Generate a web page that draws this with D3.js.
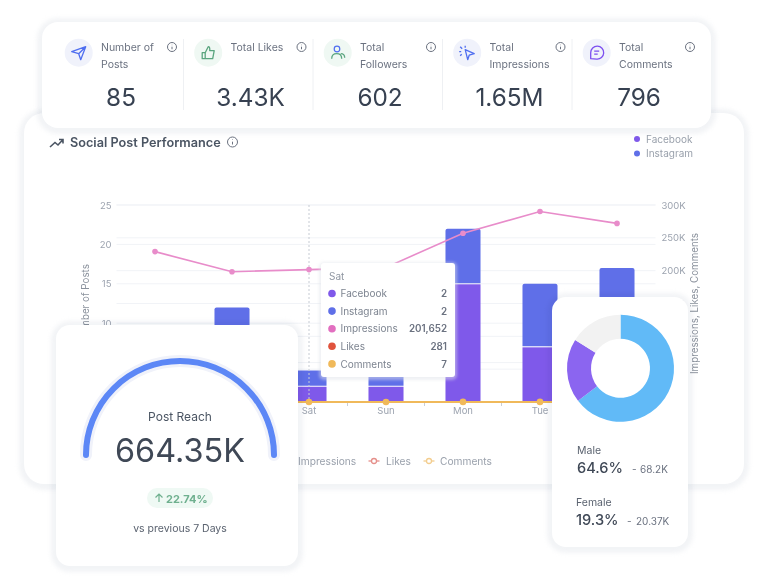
<!DOCTYPE html>
<html>
<head>
<meta charset="utf-8">
<script src="https://cdnjs.cloudflare.com/ajax/libs/d3/7.8.5/d3.min.js"></script>
<style>
  html, body { margin: 0; padding: 0; background: #fff; }
  svg { display: block; filter: blur(0.45px); }
  text { font-family: Inter, "Noto Sans", sans-serif; }
</style>
</head>
<body>
<div id="chart"></div>
<script>
// chart data
const days = ["Thu", "Fri", "Sat", "Sun", "Mon", "Tue", "Wed"];
const facebook = [5, 6, 2, 2, 15, 7, 9];
const instagram = [4, 6, 2, 4, 7, 8, 8];
const impressions = [229000, 198400, 201652, 205000, 257000, 290000, 272000];
const likes = [410, 390, 281, 420, 610, 720, 600];
const comments = [100, 90, 7, 95, 170, 185, 149];

const postTicks = [0, 5, 10, 15, 20, 25];
const reachTicks = [0, 50000, 100000, 150000, 200000, 250000, 300000];

const kpiLabels = [["Number of", "Posts"], ["Total Likes"], ["Total", "Followers"], ["Total", "Impressions"], ["Total", "Comments"]];
const kpiValues = ["85", "3.43K", "602", "1.65M", "796"];

const tooltipDay = "Sat";
const tooltipLabels = ["Facebook", "Instagram", "Impressions", "Likes", "Comments"];
const tooltipValues = ["2", "2", "201,652", "281", "7"];

const genderLabels = ["Male", "Female"];
const genderShares = [64.6, 19.3, 16.1];
const genderCounts = ["68.2K", "20.37K"];

const colors = {
  facebook: "#7f59ea", instagram: "#5f6fe8", impressions: "#e88cca",
  likes: "#e0533d", comments: "#f0b95a", grid: "#f1f3f7", axis: "#9ca3af"
};
const seriesColors = [colors.facebook, colors.instagram, "#e26fc0", colors.likes, colors.comments];

const svg = d3.select("#chart").append("svg")
  .attr("width", 768)
  .attr("height", 587);

// white rounded card with a soft see-through halo
function card(x, y, w, h, r) {
  const g = svg.append("g");
  g.append("rect").attr("x", x - 5).attr("y", y - 4).attr("width", w + 10).attr("height", h + 10)
    .attr("rx", r + 5).attr("fill", "#dfe3e9").attr("opacity", 0.4)
    .style("filter", "blur(2px)").style("mix-blend-mode", "multiply");
  g.append("rect").attr("x", x).attr("y", y).attr("width", w).attr("height", h)
    .attr("rx", r).attr("fill", "#fff");
  return g;
}

function infoIcon(parent, cx, cy, r, color) {
  const g = parent.append("g").attr("transform", "translate(" + cx + "," + cy + ")")
    .attr("fill", "none").attr("stroke", color).attr("stroke-width", 1);
  g.append("circle").attr("r", r);
  g.append("line").attr("y1", -0.3).attr("y2", r * 0.5);
  g.append("line").attr("y1", -r * 0.5).attr("y2", -r * 0.4);
}

// bar segment with only the top corners rounded
function roundedTop(left, top, w, h, r) {
  const p = d3.path();
  p.moveTo(left, top + h);
  p.lineTo(left, top + r);
  p.arcTo(left, top, left + r, top, r);
  p.lineTo(left + w - r, top);
  p.arcTo(left + w, top, left + w, top + r, r);
  p.lineTo(left + w, top + h);
  p.closePath();
  return p.toString();
}

// main chart card
card(24, 113, 720, 371, 20);

const x = d3.scaleBand().domain(days).range([116.5, 655.5]);
const yLeft = d3.scaleLinear().domain([0, 25]).range([402, 205]);
const yRight = d3.scaleLinear().domain([0, 300000]).range([402, 205]);
const cx = d => x(d) + x.bandwidth() / 2;
const barWidth = x.bandwidth() * 0.455;

const plot = svg.append("g");

// grid from both axes
plot.selectAll(".gridL").data(postTicks.slice(1)).enter().append("line")
  .attr("x1", x.range()[0]).attr("x2", x.range()[1])
  .attr("y1", d => yLeft(d)).attr("y2", d => yLeft(d))
  .attr("stroke", colors.grid);
plot.selectAll(".gridR").data(reachTicks.slice(1)).enter().append("line")
  .attr("x1", x.range()[0]).attr("x2", x.range()[1])
  .attr("y1", d => yRight(d)).attr("y2", d => yRight(d))
  .attr("stroke", colors.grid);

// axes
const leftAxis = plot.append("g").attr("transform", "translate(" + x.range()[0] + ",0)")
  .call(d3.axisLeft(yLeft).tickValues(postTicks).tickSize(0).tickPadding(5));
const rightAxis = plot.append("g").attr("transform", "translate(" + x.range()[1] + ",0)")
  .call(d3.axisRight(yRight).tickValues(reachTicks).tickSize(0).tickPadding(6)
    .tickFormat(d => d === 0 ? "0" : (d / 1000) + "K"));
const bottomAxis = plot.append("g").attr("transform", "translate(0,402)")
  .call(d3.axisBottom(x).tickSize(0).tickPadding(5));
[leftAxis, rightAxis, bottomAxis].forEach(a => {
  a.select(".domain").remove();
  a.selectAll("text").attr("fill", colors.axis).style("font-size", "9.5px")
    .style("font-family", "Inter, sans-serif");
});
// these day labels would be covered by the cards anyway
bottomAxis.selectAll(".tick").filter(d => ["Thu", "Fri", "Wed"].includes(d)).remove();

// small ticks sit on the band edges
plot.selectAll(".xtick").data(days).enter().append("line")
  .attr("x1", d => x(d)).attr("x2", d => x(d))
  .attr("y1", 402).attr("y2", 406)
  .attr("stroke", "#c9ced6");

plot.append("text")
  .attr("transform", "translate(89,303) rotate(-90)")
  .attr("text-anchor", "middle").attr("fill", "#8a919c").style("font-size", "9.8px")
  .text("Number of Posts");
plot.append("text")
  .attr("transform", "translate(698,303.5) rotate(-90)")
  .attr("text-anchor", "middle").attr("fill", "#8a919c").style("font-size", "9.8px")
  .text("Impressions, Likes, Comments");

// stacked bars
plot.selectAll(".fb").data(days).enter().append("rect")
  .attr("x", d => cx(d) - barWidth / 2)
  .attr("width", barWidth)
  .attr("y", (d, i) => yLeft(facebook[i]) + 0.5)
  .attr("height", (d, i) => yLeft(0) - yLeft(facebook[i]) - 0.5)
  .attr("fill", colors.facebook);
plot.selectAll(".ig").data(days).enter().append("path")
  .attr("d", (d, i) => roundedTop(cx(d) - barWidth / 2, yLeft(facebook[i] + instagram[i]), barWidth,
    yLeft(facebook[i]) - yLeft(facebook[i] + instagram[i]) - 0.5, 2))
  .attr("fill", colors.instagram);

// crosshair on the hovered day
plot.append("line")
  .attr("x1", cx(tooltipDay)).attr("x2", cx(tooltipDay))
  .attr("y1", yLeft(25)).attr("y2", yLeft(0))
  .attr("stroke", "#c6cbd3").attr("stroke-dasharray", "2,2");

// lines
function drawLine(values, color, width, radius) {
  const line = d3.line().x((d, i) => cx(days[i])).y(d => yRight(d));
  plot.append("path").datum(values)
    .attr("fill", "none").attr("stroke", color).attr("stroke-width", width).attr("d", line);
  plot.selectAll(null).data(values).enter().append("circle")
    .attr("cx", (d, i) => cx(days[i])).attr("cy", d => yRight(d)).attr("r", radius)
    .attr("fill", color);
}
drawLine(likes, colors.likes, 0.8, 1.5);
drawLine(comments, colors.comments, 2, 3.3);
drawLine(impressions, colors.impressions, 1.6, 2.8);

// top right legend
const topLegend = svg.append("g");
["Facebook", "Instagram"].forEach((name, i) => {
  topLegend.append("circle").attr("cx", 637).attr("cy", 139 + i * 14.5).attr("r", 3)
    .attr("fill", seriesColors[i]);
  topLegend.append("text").attr("x", 646).attr("y", 142.5 + i * 14.5)
    .attr("fill", "#9aa1ac").style("font-size", "10px").text(name);
});

// bottom legend (first entry's marker sits behind the reach card)
const bottomLegend = svg.append("g");
[["Impressions", 284, 298], ["Likes", 374, 386], ["Comments", 429, 440]].forEach((d, i) => {
  const c = [colors.impressions, "#e58f8a", "#f3cd8e"][i];
  bottomLegend.append("line").attr("x1", d[1] - 5.5).attr("x2", d[1] + 5.5)
    .attr("y1", 461).attr("y2", 461).attr("stroke", c).attr("stroke-width", 1.3);
  bottomLegend.append("circle").attr("cx", d[1]).attr("cy", 461).attr("r", 2.5)
    .attr("fill", "#fff").attr("stroke", c).attr("stroke-width", 1.3);
  bottomLegend.append("text").attr("x", d[2]).attr("y", 465)
    .attr("fill", "#9aa1ac").style("font-size", "10.2px").text(d[0]);
});

// section title
const title = svg.append("g");
title.append("path")
  .attr("d", "M50 147 L55 142.5 L58 145 L63 139.5 M59 139.5 H63 V143.5")
  .attr("fill", "none").attr("stroke", "#4b5563").attr("stroke-width", 1.6);
title.append("text").attr("x", 70).attr("y", 146.5)
  .attr("fill", "#4b5563").style("font-size", "12.7px").style("font-weight", 600)
  .text("Social Post Performance");
infoIcon(title, 232.5, 142, 5, "#6b7280");

// tooltip
const tip = svg.append("g");
tip.append("rect").attr("x", 319).attr("y", 262).attr("width", 138).attr("height", 118)
  .attr("rx", 5).attr("fill", "#dfe3e9").attr("opacity", 0.5).style("filter", "blur(1.5px)");
tip.append("rect").attr("x", 321).attr("y", 263).attr("width", 134).attr("height", 114)
  .attr("rx", 3).attr("fill", "#fff");
tip.append("text").attr("x", 329).attr("y", 280)
  .attr("fill", "#8f96a1").style("font-size", "10px").text(tooltipDay);
tooltipLabels.forEach((name, i) => {
  const yy = 293.5 + i * 17.6;
  tip.append("circle").attr("cx", 332).attr("cy", yy).attr("r", 3.8).attr("fill", seriesColors[i]);
  tip.append("text").attr("x", 340.5).attr("y", yy + 3.7)
    .attr("fill", "#7d8490").style("font-size", "10px").text(name);
  tip.append("text").attr("x", 447).attr("y", yy + 3.7).attr("text-anchor", "end")
    .attr("fill", "#6b7280").style("font-size", "9.8px").style("font-weight", 600)
    .text(tooltipValues[i]);
});

// KPI strip
const kpiCard = card(42, 22, 669, 106, 16);
const kpiStep = 129.5;
const kpiBg = ["#f0f2fb", "#eff8f3", "#eff8f3", "#f0f2fb", "#f0f2fb"];
const kpiIcons = [
  { c: "#4f6ef0", d: "M-7 -1 L7 -6 L2 7 L0 1 Z M0 1 L7 -6" },
  { c: "#5aa57f", d: "M-6 0 H-3 V6 H-6 Z M-3 0 L0 -6 Q2 -6 1.5 -2 H6 L4.5 6 H-3" },
  { c: "#5aa57f", d: "M-6 6 Q-6 1 -1 1 Q4 1 4 6 M3 1 Q7 1 7 5" },
  { c: "#4f6ef0", d: "M-2 -3 L7 1 L2 2.5 L0.5 7 Z M-7 -6 L-5 -4 M-2 -7 V-5 M-8 -1 H-6 M-7 3 L-5.5 1.5" },
  { c: "#7c4ff0", d: "M-6 6 V0 A6.5 6.5 0 1 1 0 6.5 Z M-2.5 -1.5 H2.5 M-2.5 1.5 H1" }
];
kpiValues.forEach((value, i) => {
  const left = 54 + i * kpiStep;
  const g = kpiCard.append("g");
  if (i > 0) {
    g.append("line").attr("x1", left).attr("x2", left).attr("y1", 39).attr("y2", 110)
      .attr("stroke", "#eef0f3");
  }
  g.append("circle").attr("cx", left + 24.7).attr("cy", 52.7).attr("r", 14).attr("fill", kpiBg[i]);
  g.append("path").attr("transform", "translate(" + (left + 24.7) + ",52.7)")
    .attr("d", kpiIcons[i].d).attr("fill", "none")
    .attr("stroke", kpiIcons[i].c).attr("stroke-width", 1.3).attr("stroke-linejoin", "round");
  if (i === 2) {
    g.append("circle").attr("cx", left + 24).attr("cy", 49).attr("r", 2.8).attr("fill", "none")
      .attr("stroke", "#4f6ef0").attr("stroke-width", 1.2);
  }
  kpiLabels[i].forEach((line, j) => {
    g.append("text").attr("x", left + 47).attr("y", 51 + j * 16.5)
      .attr("fill", "#6b7280").style("font-size", "10.5px").text(line);
  });
  infoIcon(g, left + 118, 47, 4.5, "#6b7280");
  g.append("text").attr("x", left + 67).attr("y", 106).attr("text-anchor", "middle")
    .attr("fill", "#374151").style("font-size", "24.3px").style("font-weight", 400).text(value);
});

// post reach gauge
const gaugeCard = card(56, 325, 242, 241, 14);
const gauge = gaugeCard.append("g").attr("transform", "translate(180,455)");
const halfCircle = d3.path();
halfCircle.arc(0, 0, 94, Math.PI, 0);
gauge.append("path").attr("d", halfCircle.toString()).attr("fill", "none")
  .attr("stroke", "#f0f2fa").attr("stroke-width", 12).attr("stroke-linecap", "round");
gauge.append("path").attr("d", halfCircle.toString()).attr("fill", "none")
  .attr("stroke", "#5c87f6").attr("stroke-width", 6).attr("stroke-linecap", "round");
gaugeCard.append("text").attr("x", 180).attr("y", 420.5).attr("text-anchor", "middle")
  .attr("fill", "#4b5563").style("font-size", "12px").text("Post Reach");
gaugeCard.append("text").attr("x", 180).attr("y", 462).attr("text-anchor", "middle")
  .attr("fill", "#3f4856").style("font-size", "32.4px").text("664.35K");
gaugeCard.append("rect").attr("x", 147).attr("y", 488).attr("width", 66).attr("height", 20)
  .attr("rx", 10).attr("fill", "#eff9f4");
gaugeCard.append("path").attr("d", "M159 502 V494 M155.5 497.5 L159 494 L162.5 497.5")
  .attr("fill", "none").attr("stroke", "#6fb08f").attr("stroke-width", 1.2);
gaugeCard.append("text").attr("x", 166).attr("y", 502.5)
  .attr("fill", "#6fb08f").style("font-size", "11px").style("font-weight", 700).text("22.74%");
gaugeCard.append("text").attr("x", 180).attr("y", 532).attr("text-anchor", "middle")
  .attr("fill", "#5b6370").style("font-size", "10.5px").text("vs previous 7 Days");

// gender donut
const donutCard = card(552, 297, 136, 250, 14);
const pie = d3.pie().sort(null)(genderShares);
const arc = d3.arc().innerRadius(29.5).outerRadius(53.5);
donutCard.append("g").attr("transform", "translate(620.5,368.3)")
  .selectAll("path").data(pie).enter().append("path")
  .attr("d", arc)
  .attr("fill", (d, i) => ["#61baf7", "#8b65f0", "#f2f2f2"][i]);
[[577, 454, 473, 632, 640], [576, 506, 525, 627, 636]].forEach((p, i) => {
  donutCard.append("text").attr("x", p[0]).attr("y", p[1])
    .attr("fill", "#5b6370").style("font-size", "10.5px").text(genderLabels[i]);
  donutCard.append("text").attr("x", p[0]).attr("y", p[2])
    .attr("fill", "#3f4856").style("font-size", "14.6px").style("font-weight", 500)
    .text(genderShares[i] + "%");
  donutCard.append("text").attr("x", p[3]).attr("y", p[2] - 0.5)
    .attr("fill", "#6b7280").style("font-size", "10px").text("-");
  donutCard.append("text").attr("x", p[4]).attr("y", p[2] - 0.5)
    .attr("fill", "#6b7280").style("font-size", "10px").text(genderCounts[i]);
});
</script>
</body>
</html>
